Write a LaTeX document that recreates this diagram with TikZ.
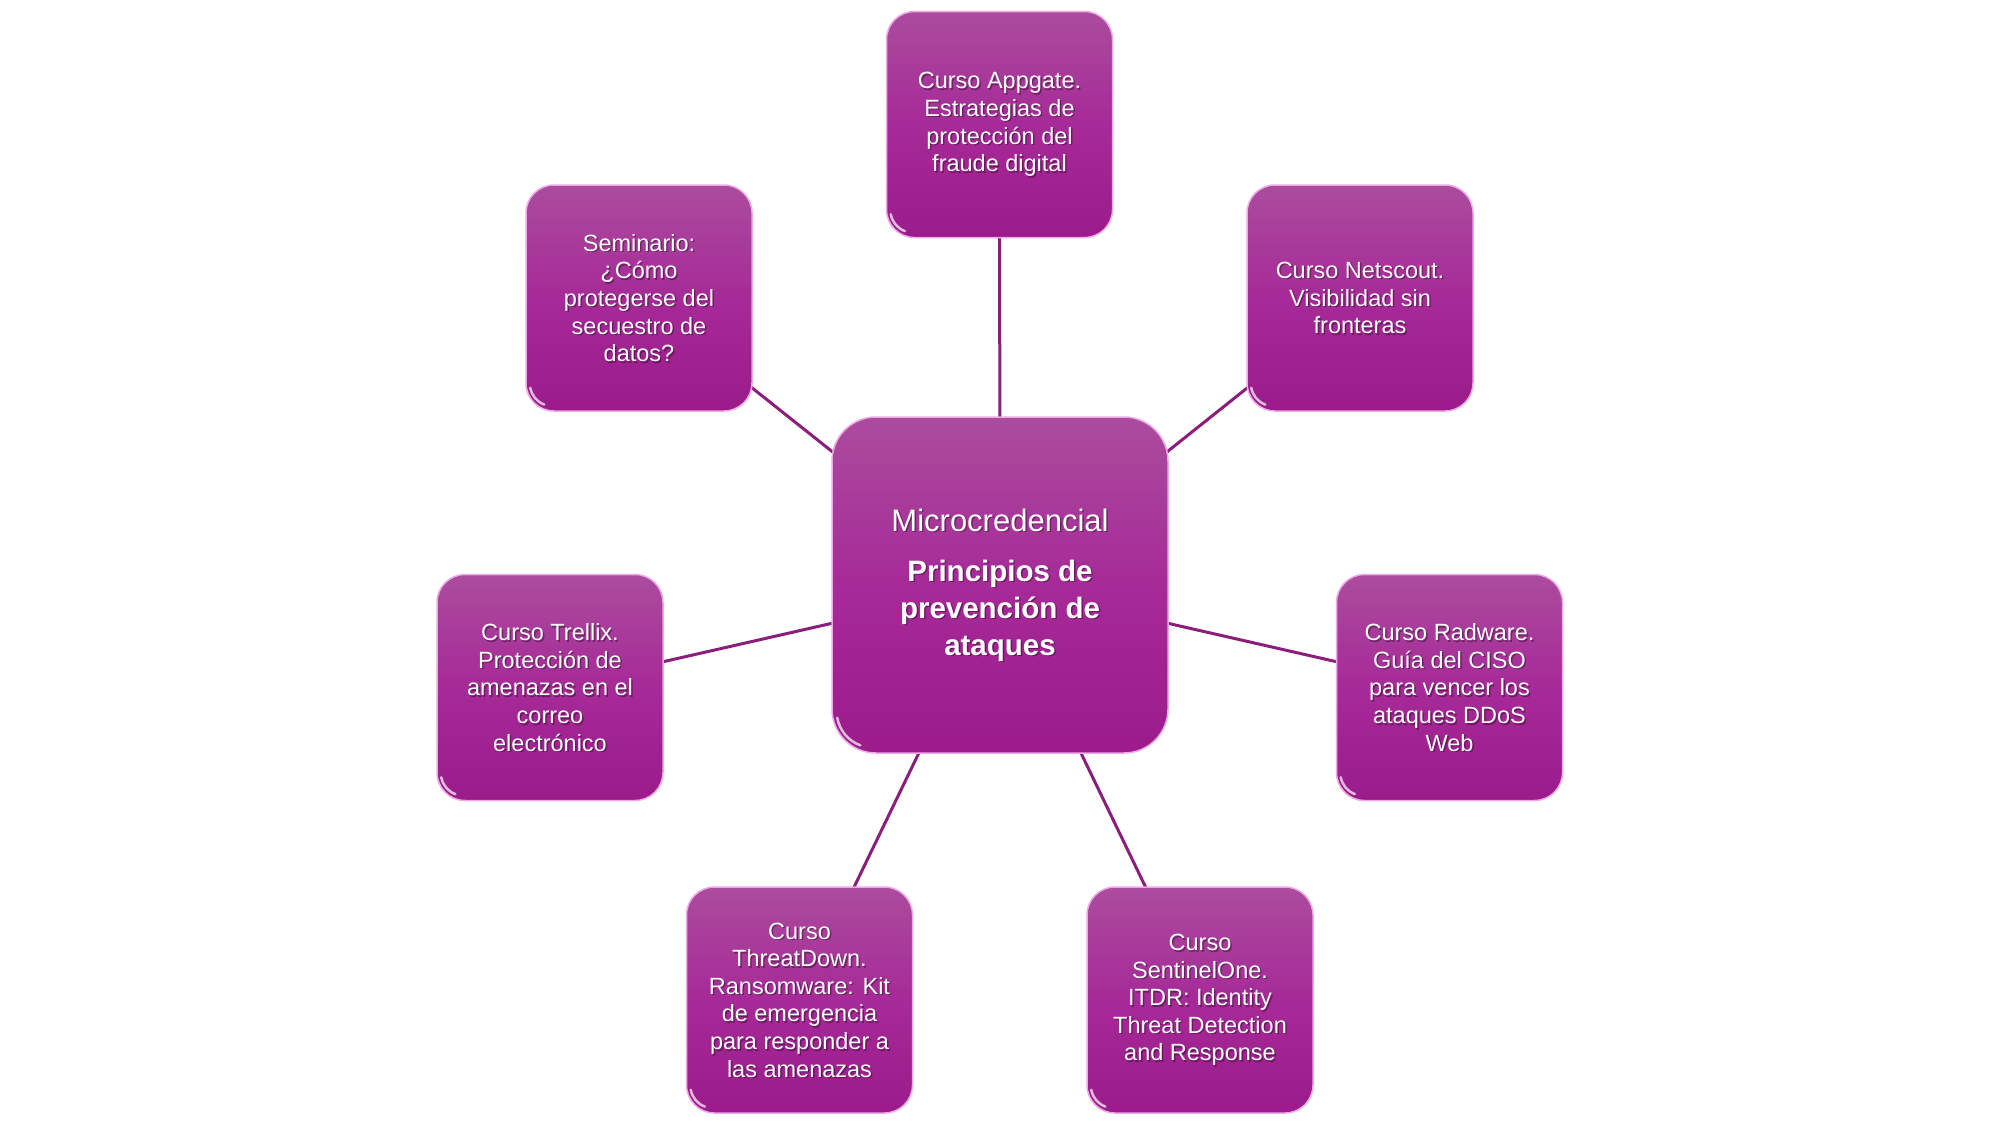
\documentclass[tikz,border=0pt]{standalone}
\usepackage{fontspec}
\setmainfont{Liberation Sans}
\usetikzlibrary{backgrounds}
\definecolor{boxtop}{RGB}{171,76,157}
\definecolor{boxmid}{RGB}{166,42,152}
\definecolor{boxbot}{RGB}{155,27,138}
\definecolor{rim}{RGB}{238,168,232}
\definecolor{linkc}{RGB}{139,30,122}
\tikzset{
  bubble/.style={rounded corners=28pt, minimum width=226pt, minimum height=226pt,
    top color=boxtop, bottom color=boxbot, middle color=boxmid,
    draw=rim, line width=1.5pt, inner sep=0pt},
  hub/.style={bubble, rounded corners=44pt, minimum width=336pt, minimum height=336pt},
  boxtext/.style={text=white, align=center, inner sep=0pt, font=\fontsize{23.5}{27.6}\selectfont},
  boxshadow/.style={boxtext, text=black, opacity=0.35},
  link/.style={draw=linkc, line width=3pt},
  gloss/.style={draw=white, line width=2.5pt, opacity=0.7, line cap=round}
}
\newcommand\satbox[3]{%
  \node[bubble] (#1) at (#2) {};
  \node[boxshadow] at ([shift={(1.5pt,-1.5pt)}]#1.center) {#3};
  \node[boxtext] (#1-t) at (#1.center) {#3};
  \draw[gloss] ([shift={(5pt,24pt)}]#1.south west) arc[start angle=190,end angle=250,radius=22pt];
}
\begin{document}
\begin{tikzpicture}[x=1pt,y=-1pt]
\useasboundingbox (0,0) rectangle (2000,1125);

% hub
\node[hub] (hub) at (1000,585) {};
\draw[gloss] ([shift={(6pt,36pt)}]hub.south west) arc[start angle=190,end angle=250,radius=36pt];
\node[boxshadow, font=\fontsize{31}{37}\selectfont] at ([shift={(1.5pt,-1.5pt)}]hub.center)
  {Microcredencial\\[13pt]\fontsize{29.5}{37}\selectfont\bfseries Principios de\\\fontsize{29.5}{37}\selectfont\bfseries prevención de\\\fontsize{29.5}{37}\selectfont\bfseries ataques};
\node[boxtext, font=\fontsize{31}{37}\selectfont] (hub-t) at (hub.center)
  {Microcredencial\\[13pt]\fontsize{29.5}{37}\selectfont\bfseries Principios de\\\fontsize{29.5}{37}\selectfont\bfseries prevención de\\\fontsize{29.5}{37}\selectfont\bfseries ataques};

% satellites
\satbox{appgate}{999.5,124.5}{Curso Appgate.\\Estrategias de\\protección del\\fraude digital}
\satbox{seminario}{639,298}{Seminario:\\¿Cómo\\protegerse del\\secuestro de\\datos?}
\satbox{netscout}{1360,298}{Curso Netscout.\\Visibilidad sin\\fronteras}
\satbox{trellix}{550,687.5}{Curso Trellix.\\Protección de\\amenazas en el\\correo\\electrónico}
\satbox{radware}{1449.5,687.5}{Curso Radware.\\Guía del CISO\\para vencer los\\ataques DDoS\\Web}
\satbox{threatdown}{799.5,1000}{Curso\\ThreatDown.\\Ransomware: Kit\\de emergencia\\para responder a\\las amenazas}
\satbox{sentinel}{1200,1000}{Curso\\SentinelOne.\\ITDR: Identity\\Threat Detection\\and Response}

% connectors
\begin{scope}[on background layer]
\fill[white] (0,0) rectangle (2000,1125);
\foreach \n in {appgate,seminario,netscout,trellix,radware,threatdown,sentinel}
  \draw[link] (hub.center) -- (\n.center);
\end{scope}
\end{tikzpicture}
\end{document}
